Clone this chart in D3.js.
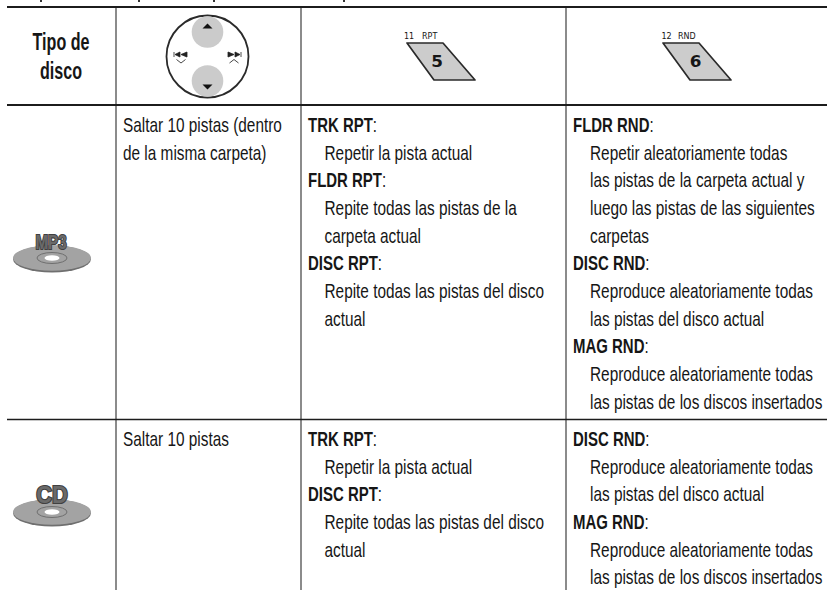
<!DOCTYPE html>
<html><head><meta charset="utf-8">
<script src="https://cdn.jsdelivr.net/npm/d3@7"></script>
<style>
html,body{margin:0;padding:0;background:#fff;overflow:hidden}
svg{display:block}
text{font-family:"Liberation Sans",sans-serif;fill:#161616}
</style></head><body>
<svg id="c" width="827" height="590"></svg>
<script>
// ---- table content ----
const headerLines = ["Tipo de", "disco"];
const keyCaptions = [["11", "RPT", "5"], ["12", "RND", "6"]];
const discLabels = ["MP3", "CD"];
const skipMP3 = ["Saltar 10 pistas (dentro", "de la misma carpeta)"];
const skipCD = ["Saltar 10 pistas"];
const rptMP3 = [
  ["TRK RPT", 1], ["Repetir la pista actual", 0],
  ["FLDR RPT", 1], ["Repite todas las pistas de la", 0], ["carpeta actual", 0],
  ["DISC RPT", 1], ["Repite todas las pistas del disco", 0], ["actual", 0]];
const rndMP3 = [
  ["FLDR RND", 1], ["Repetir aleatoriamente todas", 0], ["las pistas de la carpeta actual y", 0],
  ["luego las pistas de las siguientes", 0], ["carpetas", 0],
  ["DISC RND", 1], ["Reproduce aleatoriamente todas", 0], ["las pistas del disco actual", 0],
  ["MAG RND", 1], ["Reproduce aleatoriamente todas", 0], ["las pistas de los discos insertados", 0]];
const rptCD = [
  ["TRK RPT", 1], ["Repetir la pista actual", 0],
  ["DISC RPT", 1], ["Repite todas las pistas del disco", 0], ["actual", 0]];
const rndCD = [
  ["DISC RND", 1], ["Reproduce aleatoriamente todas", 0], ["las pistas del disco actual", 0],
  ["MAG RND", 1], ["Reproduce aleatoriamente todas", 0], ["las pistas de los discos insertados", 0]];

const svg = d3.select("#c");
const colEdge = d3.scaleOrdinal([0, 1, 2, 3], [116, 301, 566, 827]);
const rowEdge = d3.scaleOrdinal([0, 1, 2, 3], [7, 105, 419.5, 590]);
const lineY = d3.scaleLinear([0, 1], [0, 27.65]);
const FS = 20.5, SX = 0.75, SXB = 0.73;

// stray descenders of the cropped line above the table
svg.selectAll(".d").data([40, 138, 213, 343]).join("rect")
  .attr("x", d => d).attr("y", 0).attr("width", 2).attr("height", 2).attr("fill", "#333");

// grid
svg.selectAll(".v").data([0, 1, 2]).join("line")
  .attr("x1", d => colEdge(d)).attr("x2", d => colEdge(d))
  .attr("y1", 7).attr("y2", 590).attr("stroke", "#6e6e6e").attr("stroke-width", 1.6);
svg.selectAll(".h").data([0, 1, 2]).join("line")
  .attr("x1", 7).attr("x2", 827).attr("y1", d => rowEdge(d)).attr("y2", d => rowEdge(d))
  .attr("stroke", "#1c1c1c").attr("stroke-width", d => d === 2 ? 1.3 : 2);

// cell text
function cell(lines, x, y0, indent) {
  const g = svg.append("g");
  g.selectAll("text").data(lines).join("text")
    .attr("transform", (d, i) => `translate(${x + (d[1] ? 0 : indent)},${y0 + lineY(i)}) scale(${d[1] ? SXB : SX},1)`)
    .attr("font-size", FS)
    .each(function (d) {
      const t = d3.select(this);
      t.append("tspan").attr("font-weight", d[1] ? 700 : 400).text(d[0]);
      if (d[1]) t.append("tspan").text(":");
    });
}
cell(skipMP3.map(s => [s, 0]), 123, 132, 0);
cell(skipCD.map(s => [s, 0]), 123, 446, 0);
cell(rptMP3, 308, 132, 16.5);
cell(rptCD, 308, 446, 16.5);
cell(rndMP3, 573, 132, 17);
cell(rndCD, 573, 446, 17);

// header cell
svg.append("g").selectAll("text").data(headerLines).join("text")
  .attr("transform", (d, i) => `translate(61,${50 + i * 29}) scale(0.7,1)`)
  .attr("text-anchor", "middle").attr("font-size", 23).attr("font-weight", 700).text(d => d);

// d-pad
const pad = svg.append("g").attr("transform", "translate(207.5,56.5)");
pad.append("circle").attr("r", 41).attr("fill", "#fff").attr("stroke", "#2a2a2a").attr("stroke-width", 1.8);
pad.selectAll(".b").data([-1, 1]).join("circle")
  .attr("cy", d => d * 24.5).attr("r", 15.8).attr("fill", "#cbcbcb");
pad.selectAll(".t").data([-1, 1]).join("path")
  .attr("transform", d => `translate(0,${d * 30.5}) scale(1,${d})`)
  .attr("d", "M-5,-2.5L5,-2.5L0,2.5Z").attr("fill", "#111");
pad.selectAll(".s").data([-1, 1]).join("g")
  .attr("transform", d => `translate(${d * 26.5},-2)`)
  .each(function (d) {
    const g = d3.select(this);
    g.append("path").attr("transform", `scale(${-d},1)`)
      .attr("d", "M-7,-2.5V2.5M-6,0L-1,-2.5V2.5ZM0,0L6,-2.5V2.5Z").attr("fill", "#222").attr("stroke", "#222").attr("stroke-width", 0.8);
    g.append("path").attr("d", d < 0 ? "M-4.5,5L0,8.5L4.5,5" : "M-4.5,8.5L0,5L4.5,8.5")
      .attr("fill", "none").attr("stroke", "#333").attr("stroke-width", 0.9);
  });

// keys
const keyX = [407, 663];
const digitDx = [30, 32.5];
const capDx = [-3, -1.5];
keyCaptions.forEach((k, i) => {
  const g = svg.append("g").attr("transform", `translate(${keyX[i]},0)`);
  g.append("path").attr("d", "M0,43H36L68,80H27Z").attr("fill", "#cccccc").attr("stroke", "#2a2a2a")
    .attr("stroke-width", 1.7).attr("stroke-linejoin", "round");
  g.append("text").attr("x", capDx[i]).attr("y", 39).attr("font-size", 8).style("font-family", "DejaVu Sans").text(k[0]);
  g.append("text").attr("x", 15).attr("y", 39).attr("font-size", 8).style("font-family", "DejaVu Sans").text(k[1]);
  g.append("text").attr("transform", `translate(${digitDx[i]},67) scale(1.02,1)`).attr("text-anchor", "middle").attr("font-size", 16.5)
    .attr("font-weight", 700).style("font-family", "DejaVu Sans").text(k[2]);
});

// discs
const discY = [258, 512];
const labSize = [21, 23];
const labSx = [0.72, 0.95];
discLabels.forEach((lab, i) => {
  const g = svg.append("g").attr("transform", `translate(52,${discY[i]})`);
  g.append("ellipse").attr("cy", 1).attr("rx", 39).attr("ry", 13.5).attr("fill", "#6f6f6f");
  g.append("ellipse").attr("rx", 39).attr("ry", 12.8).attr("fill", "#a3a3a3");
  g.append("ellipse").attr("rx", 15).attr("ry", 5.5).attr("fill", "none").attr("stroke", "#6f6f6f");
  g.append("ellipse").attr("rx", 7.5).attr("ry", 2.8).attr("fill", "#fff");
  g.append("text").attr("transform", `translate(${i ? 0 : -1},-9) scale(${labSx[i]},1)`).attr("text-anchor", "middle").attr("font-size", labSize[i])
    .attr("font-weight", 700)
    .style("fill", "#6a6a6a").attr("stroke", "#404040").attr("stroke-width", 2.2).attr("paint-order", "stroke").text(lab);
});
</script></body></html>
